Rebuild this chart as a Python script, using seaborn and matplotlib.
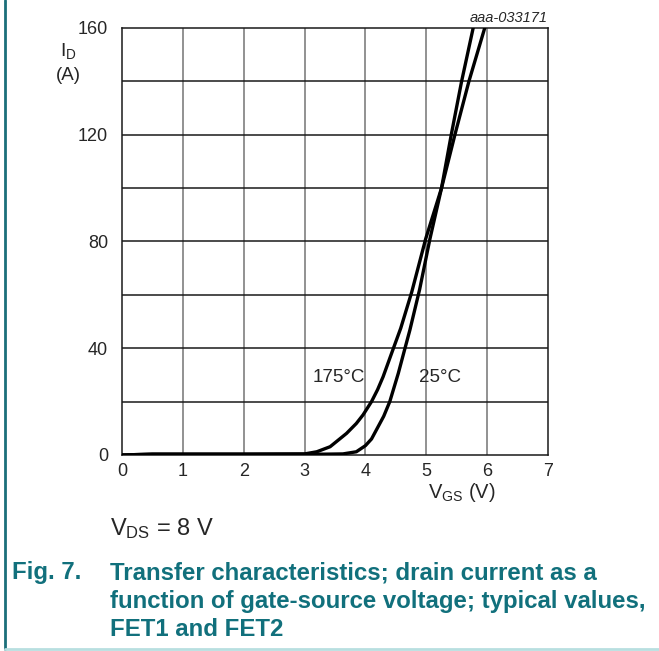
import matplotlib
matplotlib.use("Agg")
import matplotlib.pyplot as plt
import seaborn as sns
import pandas as pd

# curve readings
vgs_25 = [0, 0.5, 1, 2, 3, 3.3, 3.63, 3.85, 4.0, 4.1, 4.18, 4.3, 4.4, 4.54, 4.65, 4.73, 4.89, 5.06, 5.25, 5.41, 5.58, 5.77]
id_25 = [0, 0.3, 0.3, 0.3, 0.3, 0.3, 0.4, 1.2, 3.5, 6.0, 9.4, 14.5, 20, 30.6, 40, 46.8, 62, 81, 100, 120, 140, 160]

vgs_175 = [0, 0.5, 1, 2, 3, 3.2, 3.42, 3.69, 3.85, 3.96, 4.1, 4.2, 4.29, 4.46, 4.58, 4.76, 4.99, 5.25, 5.47, 5.70, 5.96]
id_175 = [0, 0.3, 0.3, 0.3, 0.4, 1.2, 3.1, 8.1, 11.8, 15, 20, 24.5, 29.3, 40, 47.5, 61, 81, 100, 120, 140, 160]

x_ticks = [0, 1, 2, 3, 4, 5, 6, 7]
y_ticks = [0, 40, 80, 120, 160]

df = pd.concat([
    pd.DataFrame({"VGS": vgs_25, "ID": id_25, "T": "25°C"}),
    pd.DataFrame({"VGS": vgs_175, "ID": id_175, "T": "175°C"}),
])

sns.set_style("white")
plt.rcParams["font.family"] = ["Liberation Sans", "DejaVu Sans"]
plt.rcParams["mathtext.fontset"] = "custom"
plt.rcParams["mathtext.rm"] = "Liberation Sans"
plt.rcParams["mathtext.it"] = "Liberation Sans:italic"

fig = plt.figure(figsize=(6.59, 6.51), dpi=100)
ax = fig.add_axes([0.1851, 0.3011, 0.6465, 0.6559])

# grid: gray verticals, black horizontals
for v in range(1, 7):
    ax.axvline(v, color="#7f7f7f", lw=1.2, zorder=1)
for i in range(20, 160, 20):
    ax.axhline(i, color="#1a1a1a", lw=1.1, zorder=1)

sns.lineplot(data=df, x="VGS", y="ID", hue="T", palette=["black", "black"],
             lw=2.4, legend=False, ax=ax, zorder=3, estimator=None, sort=True)

ax.set_xlim(0, 7)
ax.set_ylim(0, 160)
ax.set_xticks(x_ticks)
ax.set_yticks(y_ticks)
ax.tick_params(length=0, labelsize=13, pad=6)
ax.tick_params(axis="y", pad=10)
ax.set_xlabel("")
ax.set_ylabel("")
for s in ax.spines.values():
    s.set_color("#1a1a1a")
    s.set_linewidth(1.1)

ax.text(3.56, 29, "175°C", fontsize=13.5, ha="center", va="center")
ax.text(5.22, 29, "25°C", fontsize=13.5, ha="center", va="center")

fig.text(68 / 659, 1 - 51 / 651, r"I$_\mathregular{D}$", fontsize=14, ha="center", va="center")
fig.text(68 / 659, 1 - 75 / 651, "(A)", fontsize=13.5, ha="center", va="center")
fig.text(462 / 659, 1 - 492 / 651, r"V$_\mathregular{GS}$ (V)", fontsize=14.5, ha="center", va="center")
fig.text(548 / 659, 1 - 18 / 651, "aaa-033171", fontsize=10.5, style="italic", ha="right", va="center")
fig.text(110 / 659, 1 - 529 / 651, r"V$_\mathregular{DS}$ = 8 V", fontsize=17, ha="left", va="center")

teal = "#11707c"
fig.text(12 / 659, 1 - 573 / 651, "Fig. 7.", fontsize=17.3, weight="bold", color=teal, ha="left", va="center")
caption = ["Transfer characteristics; drain current as a",
           "function of gate-source voltage; typical values,",
           "FET1 and FET2"]
for k, line in enumerate(caption):
    fig.text(110 / 659, 1 - (573 + 28.5 * k) / 651, line, fontsize=17.3, weight="bold",
             color=teal, ha="left", va="center")

# page frame bits
fig.add_artist(plt.Line2D([5 / 659, 5 / 659], [2 / 651, 1], color="#1b6f7a", lw=2))
fig.add_artist(plt.Line2D([5 / 659, 1], [2.5 / 651, 2.5 / 651], color="#b8dfe0", lw=2))

fig.savefig("out.png", dpi=100)
